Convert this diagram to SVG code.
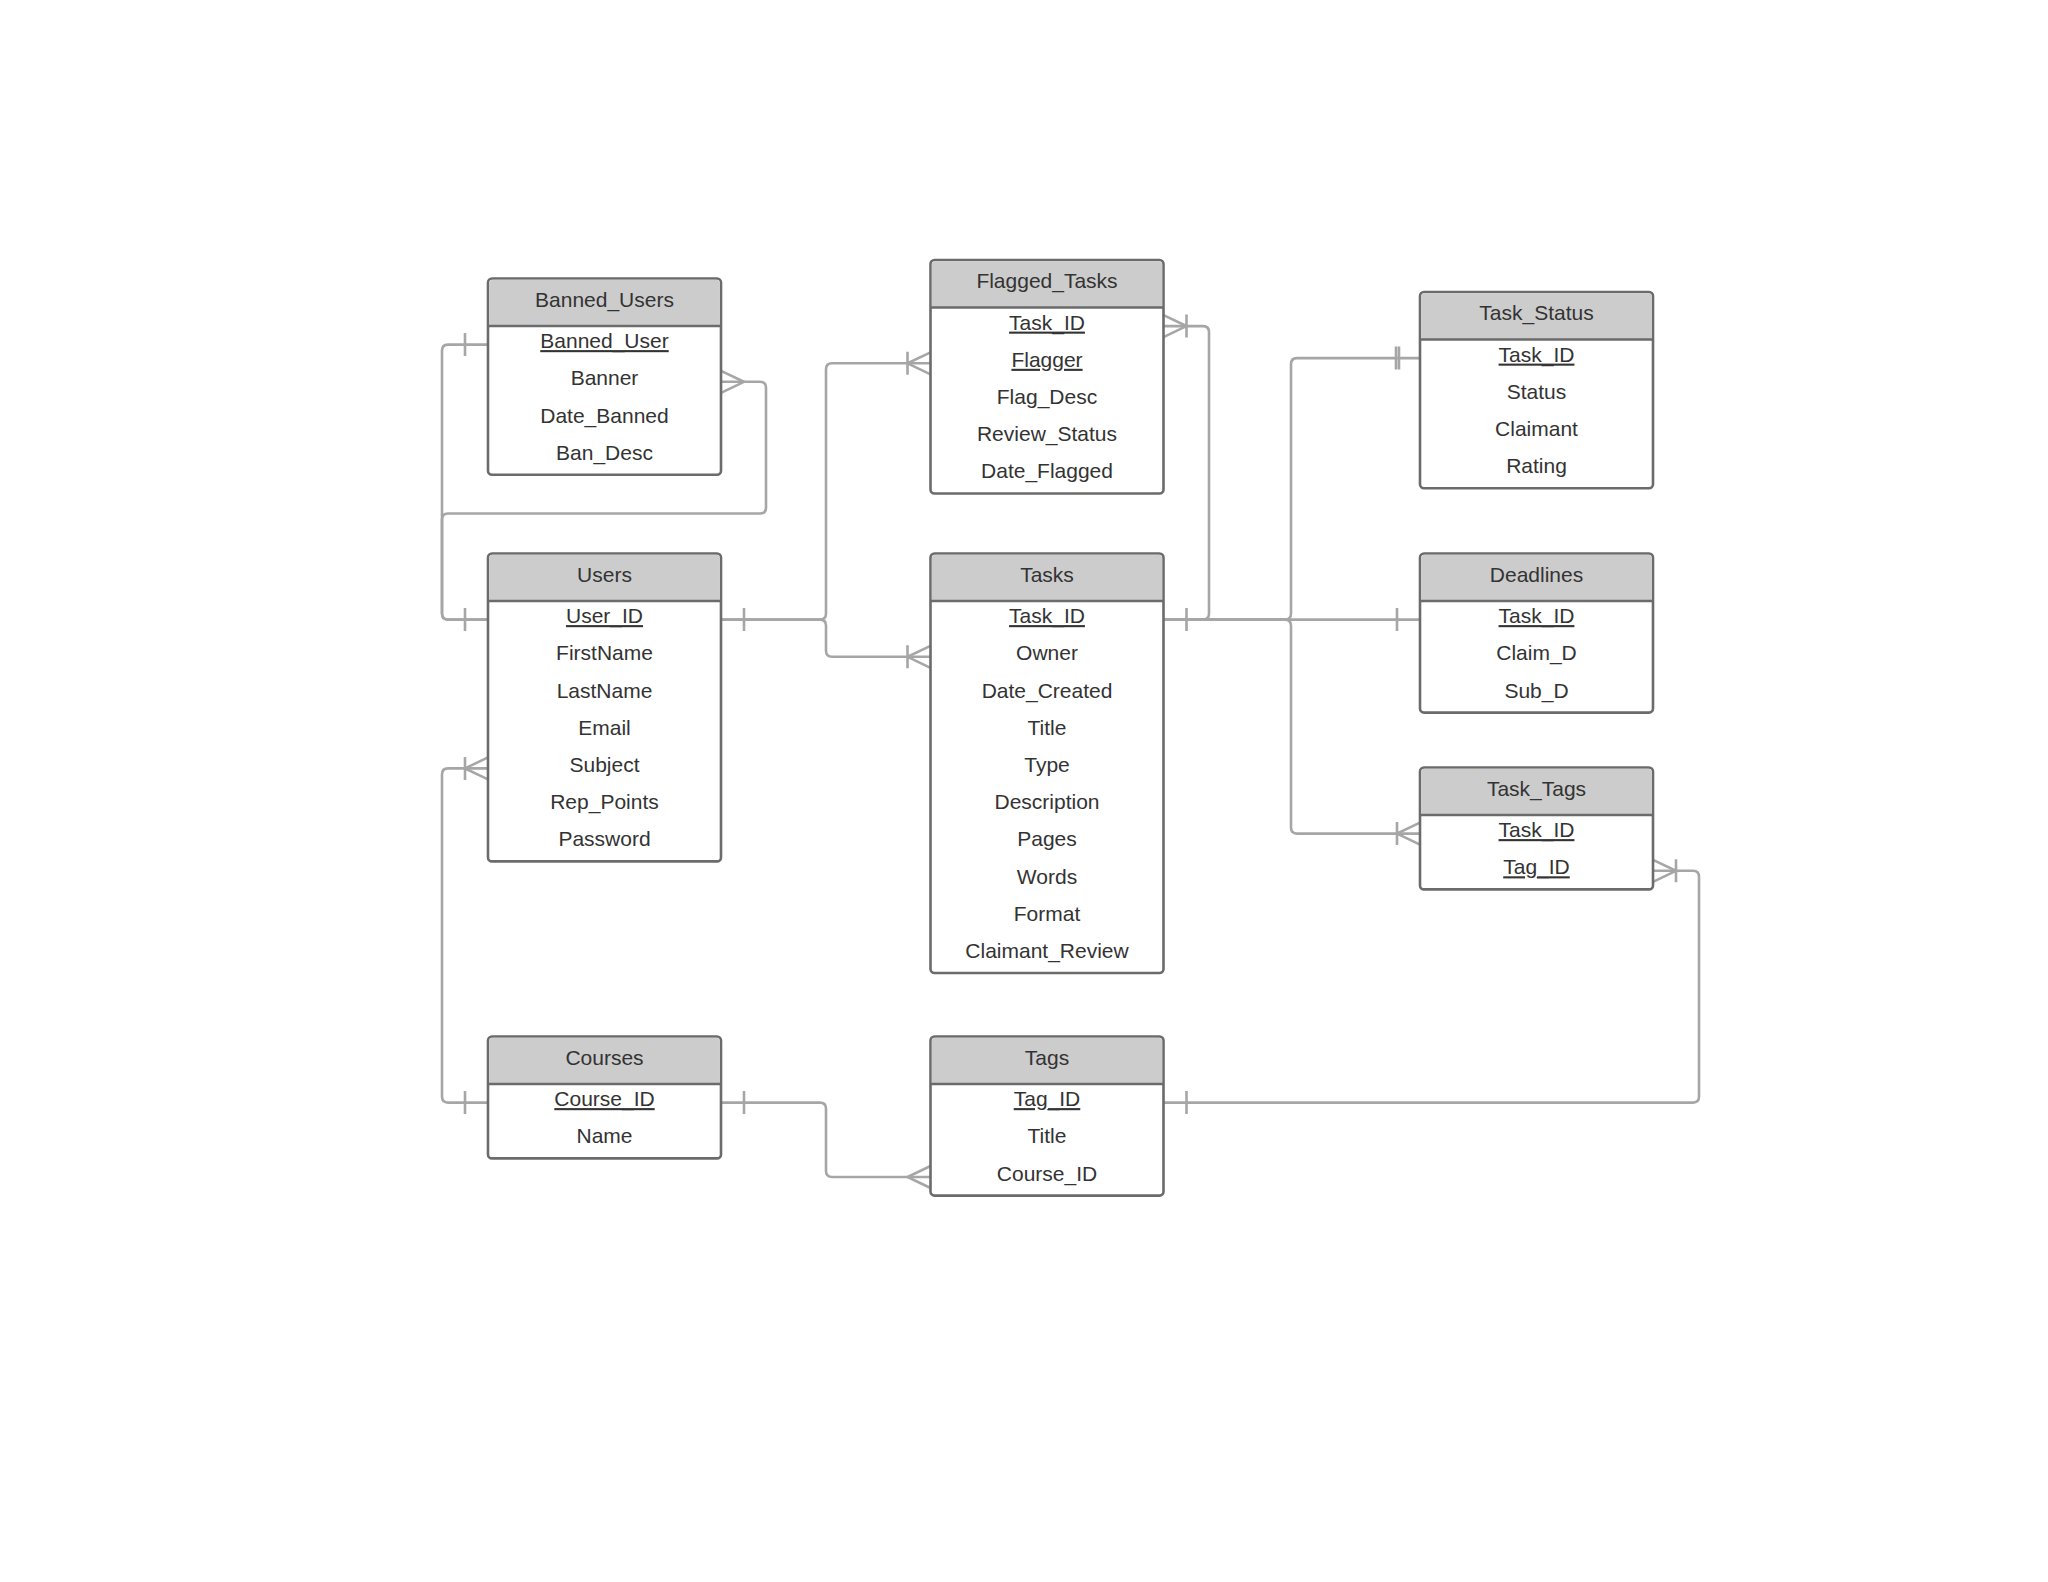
<svg xmlns="http://www.w3.org/2000/svg" width="2048" height="1582" viewBox="0 0 2048 1582">
<style>
.box{fill:#ffffff;stroke:#6b6b6b;stroke-width:2.6}
.hdr{fill:#cccccc;stroke:none}
.sep{stroke:#6b6b6b;stroke-width:2.6}
.t{font-family:"Liberation Sans",Arial,sans-serif;font-size:21px;fill:#333333;text-anchor:middle}
.pk{text-decoration:underline}
.c{fill:none;stroke:#a6a6a6;stroke-width:2.6;stroke-linecap:butt}
</style>
<rect width="2048" height="1582" fill="#ffffff"/>

<g id="connectors">
  <!-- Banned_Users.Banned_User - Users.User_ID -->
  <path class="c" d="M488,344.6 H448 Q442,344.6 442,350.6 V613.6 Q442,619.6 448,619.6 H488"/>
  <path class="c" d="M465,333 V356 M465,608 V631"/>
  <!-- Banned_Users.Banner - Users.User_ID -->
  <path class="c" d="M488,619.6 H448 Q442,619.6 442,613.6 V519.5 Q442,513.5 448,513.5 H760 Q766,513.5 766,507.5 V387.8 Q766,381.8 760,381.8 H721"/>
  <path class="c" d="M721,370.8 L744,381.8 L721,392.8"/>
  <!-- Users.User_ID - Flagged_Tasks.Flagger -->
  <path class="c" d="M721,619.6 H820 Q826,619.6 826,613.6 V369.3 Q826,363.3 832,363.3 H930.5"/>
  <path class="c" d="M744,608 V631 M907.5,351.8 V374.8 M930.5,352.3 L907.5,363.3 L930.5,374.3"/>
  <!-- Users.User_ID - Tasks.Owner -->
  <path class="c" d="M721,619.6 H820 Q826,619.6 826,625.6 V650.8 Q826,656.8 832,656.8 H930.5"/>
  <path class="c" d="M907.5,645.3 V668.3 M930.5,645.8 L907.5,656.8 L930.5,667.8"/>
  <!-- Tasks.Task_ID - Flagged_Tasks.Task_ID -->
  <path class="c" d="M1163.5,619.6 H1203 Q1209,619.6 1209,613.6 V332.1 Q1209,326.1 1203,326.1 H1163.5"/>
  <path class="c" d="M1186.5,608 V631 M1186.5,314.6 V337.6 M1163.5,315.1 L1186.5,326.1 L1163.5,337.1"/>
  <!-- Tasks.Task_ID - Task_Status.Task_ID -->
  <path class="c" d="M1163.5,619.6 H1285 Q1291,619.6 1291,613.6 V364.1 Q1291,358.1 1297,358.1 H1420"/>
  <path class="c" d="M1396,346.6 V369.6 M1399,346.6 V369.6"/>
  <!-- Tasks.Task_ID - Deadlines.Task_ID -->
  <path class="c" d="M1163.5,619.6 H1420"/>
  <path class="c" d="M1397,608 V631"/>
  <!-- Tasks.Task_ID - Task_Tags.Task_ID -->
  <path class="c" d="M1163.5,619.6 H1285 Q1291,619.6 1291,625.6 V827.6 Q1291,833.6 1297,833.6 H1420"/>
  <path class="c" d="M1397,822.1 V845.1 M1420,822.6 L1397,833.6 L1420,844.6"/>
  <!-- Tags.Tag_ID - Task_Tags.Tag_ID -->
  <path class="c" d="M1163.5,1102.6 H1693 Q1699,1102.6 1699,1096.6 V876.8 Q1699,870.8 1693,870.8 H1653"/>
  <path class="c" d="M1186.5,1091.1 V1114.1 M1676,859.3 V882.3 M1653,859.8 L1676,870.8 L1653,881.8"/>
  <!-- Courses.Course_ID - Users.Subject -->
  <path class="c" d="M488,1102.6 H448 Q442,1102.6 442,1096.6 V774.4 Q442,768.4 448,768.4 H488"/>
  <path class="c" d="M465,1091.1 V1114.1 M465,756.9 V779.9 M488,757.4 L465,768.4 L488,779.4"/>
  <!-- Courses.Course_ID - Tags.Course_ID -->
  <path class="c" d="M721,1102.6 H820 Q826,1102.6 826,1108.6 V1171 Q826,1177 832,1177 H930.5"/>
  <path class="c" d="M744,1091.1 V1114.1 M930.5,1166 L907.5,1177 L930.5,1188"/>
</g>

<g id="Banned_Users">
  <rect class="box" x="488" y="278.5" width="233" height="196.3" rx="4"/>
  <path class="hdr" d="M489.3,326 V283.5 Q489.3,279.8 493,279.8 H716 Q719.7,279.8 719.7,283.5 V326 Z"/>
  <line class="sep" x1="488" y1="326" x2="721" y2="326"/>
  <text class="t" x="604.5" y="306.5">Banned_Users</text>
  <text class="t pk" x="604.5" y="348.1">Banned_User</text>
  <text class="t" x="604.5" y="385.3">Banner</text>
  <text class="t" x="604.5" y="422.5">Date_Banned</text>
  <text class="t" x="604.5" y="459.7">Ban_Desc</text>
</g>

<g id="Flagged_Tasks">
  <rect class="box" x="930.5" y="260" width="233" height="233.5" rx="4"/>
  <path class="hdr" d="M931.8,307.5 V265 Q931.8,261.3 935.5,261.3 H1158.5 Q1162.2,261.3 1162.2,265 V307.5 Z"/>
  <line class="sep" x1="930.5" y1="307.5" x2="1163.5" y2="307.5"/>
  <text class="t" x="1047" y="288">Flagged_Tasks</text>
  <text class="t pk" x="1047" y="329.6">Task_ID</text>
  <text class="t pk" x="1047" y="366.8">Flagger</text>
  <text class="t" x="1047" y="404">Flag_Desc</text>
  <text class="t" x="1047" y="441.2">Review_Status</text>
  <text class="t" x="1047" y="478.4">Date_Flagged</text>
</g>

<g id="Task_Status">
  <rect class="box" x="1420" y="292" width="233" height="196.3" rx="4"/>
  <path class="hdr" d="M1421.3,339.5 V297 Q1421.3,293.3 1425,293.3 H1648 Q1651.7,293.3 1651.7,297 V339.5 Z"/>
  <line class="sep" x1="1420" y1="339.5" x2="1653" y2="339.5"/>
  <text class="t" x="1536.5" y="320">Task_Status</text>
  <text class="t pk" x="1536.5" y="361.6">Task_ID</text>
  <text class="t" x="1536.5" y="398.8">Status</text>
  <text class="t" x="1536.5" y="436">Claimant</text>
  <text class="t" x="1536.5" y="473.2">Rating</text>
</g>

<g id="Users">
  <rect class="box" x="488" y="553.5" width="233" height="307.9" rx="4"/>
  <path class="hdr" d="M489.3,601 V558.5 Q489.3,554.8 493,554.8 H716 Q719.7,554.8 719.7,558.5 V601 Z"/>
  <line class="sep" x1="488" y1="601" x2="721" y2="601"/>
  <text class="t" x="604.5" y="581.5">Users</text>
  <text class="t pk" x="604.5" y="623.1">User_ID</text>
  <text class="t" x="604.5" y="660.3">FirstName</text>
  <text class="t" x="604.5" y="697.5">LastName</text>
  <text class="t" x="604.5" y="734.7">Email</text>
  <text class="t" x="604.5" y="771.9">Subject</text>
  <text class="t" x="604.5" y="809.1">Rep_Points</text>
  <text class="t" x="604.5" y="846.3">Password</text>
</g>

<g id="Tasks">
  <rect class="box" x="930.5" y="553.5" width="233" height="419.5" rx="4"/>
  <path class="hdr" d="M931.8,601 V558.5 Q931.8,554.8 935.5,554.8 H1158.5 Q1162.2,554.8 1162.2,558.5 V601 Z"/>
  <line class="sep" x1="930.5" y1="601" x2="1163.5" y2="601"/>
  <text class="t" x="1047" y="581.5">Tasks</text>
  <text class="t pk" x="1047" y="623.1">Task_ID</text>
  <text class="t" x="1047" y="660.3">Owner</text>
  <text class="t" x="1047" y="697.5">Date_Created</text>
  <text class="t" x="1047" y="734.7">Title</text>
  <text class="t" x="1047" y="771.9">Type</text>
  <text class="t" x="1047" y="809.1">Description</text>
  <text class="t" x="1047" y="846.3">Pages</text>
  <text class="t" x="1047" y="883.5">Words</text>
  <text class="t" x="1047" y="920.7">Format</text>
  <text class="t" x="1047" y="957.9">Claimant_Review</text>
</g>

<g id="Deadlines">
  <rect class="box" x="1420" y="553.5" width="233" height="159.1" rx="4"/>
  <path class="hdr" d="M1421.3,601 V558.5 Q1421.3,554.8 1425,554.8 H1648 Q1651.7,554.8 1651.7,558.5 V601 Z"/>
  <line class="sep" x1="1420" y1="601" x2="1653" y2="601"/>
  <text class="t" x="1536.5" y="581.5">Deadlines</text>
  <text class="t pk" x="1536.5" y="623.1">Task_ID</text>
  <text class="t" x="1536.5" y="660.3">Claim_D</text>
  <text class="t" x="1536.5" y="697.5">Sub_D</text>
</g>

<g id="Task_Tags">
  <rect class="box" x="1420" y="767.5" width="233" height="121.9" rx="4"/>
  <path class="hdr" d="M1421.3,815 V772.5 Q1421.3,768.8 1425,768.8 H1648 Q1651.7,768.8 1651.7,772.5 V815 Z"/>
  <line class="sep" x1="1420" y1="815" x2="1653" y2="815"/>
  <text class="t" x="1536.5" y="795.5">Task_Tags</text>
  <text class="t pk" x="1536.5" y="837.1">Task_ID</text>
  <text class="t pk" x="1536.5" y="874.3">Tag_ID</text>
</g>

<g id="Courses">
  <rect class="box" x="488" y="1036.5" width="233" height="121.9" rx="4"/>
  <path class="hdr" d="M489.3,1084 V1041.5 Q489.3,1037.8 493,1037.8 H716 Q719.7,1037.8 719.7,1041.5 V1084 Z"/>
  <line class="sep" x1="488" y1="1084" x2="721" y2="1084"/>
  <text class="t" x="604.5" y="1064.5">Courses</text>
  <text class="t pk" x="604.5" y="1106.1">Course_ID</text>
  <text class="t" x="604.5" y="1143.3">Name</text>
</g>

<g id="Tags">
  <rect class="box" x="930.5" y="1036.5" width="233" height="159.1" rx="4"/>
  <path class="hdr" d="M931.8,1084 V1041.5 Q931.8,1037.8 935.5,1037.8 H1158.5 Q1162.2,1037.8 1162.2,1041.5 V1084 Z"/>
  <line class="sep" x1="930.5" y1="1084" x2="1163.5" y2="1084"/>
  <text class="t" x="1047" y="1064.5">Tags</text>
  <text class="t pk" x="1047" y="1106.1">Tag_ID</text>
  <text class="t" x="1047" y="1143.3">Title</text>
  <text class="t" x="1047" y="1180.5">Course_ID</text>
</g>
</svg>
